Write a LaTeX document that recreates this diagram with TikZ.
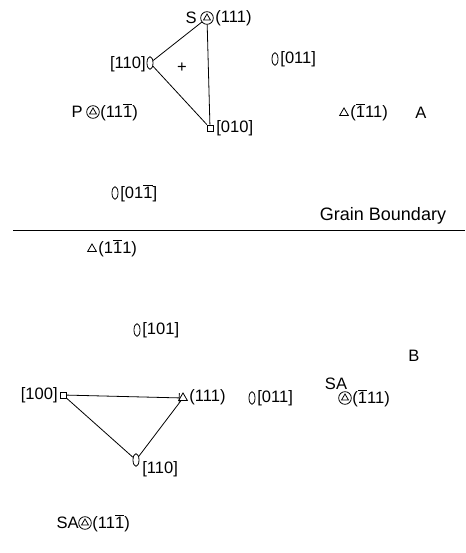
\documentclass[tikz,border=0pt]{standalone}
\usepackage{fontspec}
\setmainfont{Liberation Sans}
\usetikzlibrary{shapes.geometric,arrows.meta}
\newcommand{\nb}[1]{$\overline{\mbox{#1}}$}

\begin{document}
\begin{tikzpicture}[x=0.75pt,y=-0.75pt,line width=0.6pt,
  every node/.style={inner sep=0pt,font=\fontsize{12.4}{14}\selectfont},
  ring/.style={circle,draw,minimum size=9.5pt},
  tri/.style={regular polygon,regular polygon sides=3,draw,minimum size=7.6pt},
  smalltri/.style={regular polygon,regular polygon sides=3,draw,minimum size=6pt},
  lens/.style={ellipse,draw,minimum width=4.5pt,minimum height=9.5pt},
  box/.style={rectangle,draw,minimum size=4.5pt}]
\useasboundingbox (0,0) rectangle (465,553);

\node[ring] (ringS) at (207,18) {};
\node[smalltri] at (ringS) {};
\node[anchor=east] at (197,18) {S};
\node[anchor=west] at (215,18) {(111)};

\node[lens] (lensA) at (150,63) {};
\node[anchor=east] at (146,64) {[110]};
\node (plus) at (182,68) {+};

\node[box] (sqA) at (210,128) {};
\node[anchor=west] at (216,128) {[010]};

\draw (lensA) -- (ringS);
\draw (lensA) -- (sqA);
\draw (ringS) -- (sqA);

\node[ring] (ringP) at (93,112) {};
\node[smalltri] at (ringP) {};
\node[anchor=east] at (83,112) {P};
\node[anchor=west] at (100,112) {(11\nb{1})};

\node[lens] (lensAb) at (275,59) {};
\node[anchor=west] at (280,59) {[011]};

\node[tri] (triA) at (344,113) {};
\node[anchor=west] at (350,112) {(\nb{1}11)};
\node (labA) at (421,113) {A};

\node[lens] (lensAc) at (115,193) {};
\node[anchor=west] at (120,193) {[01\nb{1}]};

\coordinate (gbL) at (13,230);
\coordinate (gbR) at (465,230);
\draw (gbL) -- (gbR);
\node[font=\fontsize{13.5}{15}\selectfont] (gb) at (383,216) {Grain Boundary};

\node[tri] (triC) at (92,249) {};
\node[anchor=west] at (98,248) {(1\nb{1}1)};

\node[lens] (lensB) at (137,330) {};
\node[anchor=west] at (142,330) {[101]};
\node (labB) at (414,356) {B};

\node[box] (sqB) at (63,395) {};
\node[anchor=east] at (58,395) {[100]};

\node[tri] (triB) at (183,398) {};
\node[anchor=west] at (189,397) {(111)};

\node[lens] (lensBb) at (252,398) {};
\node[anchor=west] at (257,398) {[011]};

\node (sa) at (336,384) {SA};
\node[ring] (ringB) at (345,398) {};
\node[smalltri] at (ringB) {};
\node[anchor=west] at (352,398) {(\nb{1}11)};

\node[lens] (lensBc) at (136,460) {};
\node[anchor=west] at (142,469) {[110]};

\draw[-{Bar[width=7pt]}] (sqB) -- (triB);
\draw (sqB) -- (lensBc);
\draw (triB) -- (lensBc);

\node[ring] (ringSA) at (85,523) {};
\node[smalltri] at (ringSA) {};
\node[anchor=east] at (79,523) {SA};
\node[anchor=west] at (92,523) {(11\nb{1})};
\end{tikzpicture}
\end{document}
